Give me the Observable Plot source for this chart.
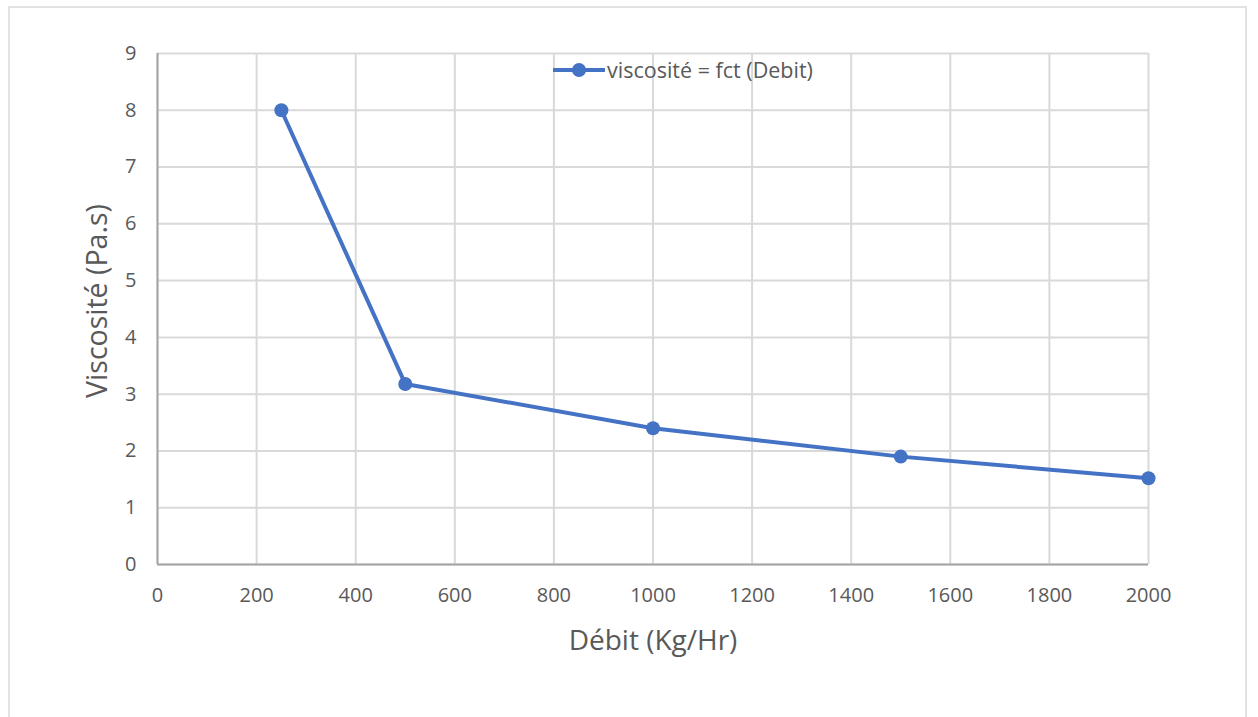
<!DOCTYPE html>
<html>
<head>
<meta charset="utf-8">
<script src="https://cdn.jsdelivr.net/npm/d3@7"></script>
<script src="https://cdn.jsdelivr.net/npm/@observablehq/plot@0.6"></script>
<style>
  html, body { margin: 0; padding: 0; background: #fff; }
  #wrap { position: relative; width: 1258px; height: 717px; overflow: hidden; font-family: "Open Sans", sans-serif; }
  #border { position: absolute; left: 8px; top: 6px; width: 1239px; height: 740px; border: 2px solid #e2e2e2; box-sizing: border-box; }
  #legend { position: absolute; left: 553px; top: 55px; display: flex; align-items: center; gap: 2px; font-size: 21.5px; color: #595959; white-space: nowrap; }
  #chart { position: absolute; left: 0; top: 0; }
</style>
</head>
<body>
<div id="wrap">
  <div id="border"></div>
  <div id="chart"></div>
  <div id="legend"></div>
</div>
<script>
// Flow rate (kg/h) and measured viscosity (Pa.s)
const debit = [250, 500, 1000, 1500, 2000];
const viscosite = [8, 3.18, 2.4, 1.9, 1.52];

const xTicks = [0, 200, 400, 600, 800, 1000, 1200, 1400, 1600, 1800, 2000];
const yTicks = [0, 1, 2, 3, 4, 5, 6, 7, 8, 9];

const seriesName = "viscosité = fct (Debit)";
const xTitle = "Débit (Kg/Hr)";
const yTitle = "Viscosité (Pa.s)";

const blue = "#4472c4";
const textColor = "#595959";

const data = debit.map((d, i) => ({debit: d, viscosite: viscosite[i]}));

const plain = d => String(d);

const chart = Plot.plot({
  width: 1258,
  height: 717,
  marginLeft: 157,
  marginRight: 110,
  marginTop: 53,
  marginBottom: 153,
  style: {fontFamily: "'Open Sans', sans-serif", background: "transparent", color: textColor},
  x: {domain: [0, 2000]},
  y: {domain: [0, 9]},
  marks: [
    Plot.gridX(xTicks, {stroke: "#d9d9d9", strokeOpacity: 1, strokeWidth: 2}),
    Plot.gridY(yTicks, {stroke: "#d9d9d9", strokeOpacity: 1, strokeWidth: 2}),
    Plot.ruleX([0], {stroke: "#a6a6a6", strokeWidth: 2}),
    Plot.ruleY([0], {stroke: "#a6a6a6", strokeWidth: 2}),
    Plot.axisX(xTicks, {tickSize: 0, tickPadding: 23, fontSize: 20, fill: textColor, label: null, tickFormat: plain}),
    Plot.axisY(yTicks, {tickSize: 0, tickPadding: 21, fontSize: 20, fill: textColor, label: null, tickFormat: plain}),
    Plot.text([xTitle], {frameAnchor: "bottom", lineAnchor: "middle", dy: 77, fontSize: 28, fill: textColor}),
    Plot.text([yTitle], {frameAnchor: "left", textAnchor: "middle", lineAnchor: "middle", rotate: -90, dx: -60, dy: -8, fontSize: 28.5, fill: textColor}),
    Plot.line(data, {x: "debit", y: "viscosite", stroke: blue, strokeWidth: 4}),
    Plot.dot(data, {x: "debit", y: "viscosite", r: 7, fill: blue, stroke: "none"})
  ]
});
document.getElementById("chart").append(chart);

// Series legend: line + marker swatch, then the series name
const legend = document.getElementById("legend");
legend.innerHTML =
  `<svg width="52" height="16"><line x1="0" y1="8" x2="52" y2="8" stroke="${blue}" stroke-width="4"/>` +
  `<circle cx="26" cy="8" r="7" fill="${blue}"/></svg><span>${seriesName}</span>`;
</script>
</body>
</html>
